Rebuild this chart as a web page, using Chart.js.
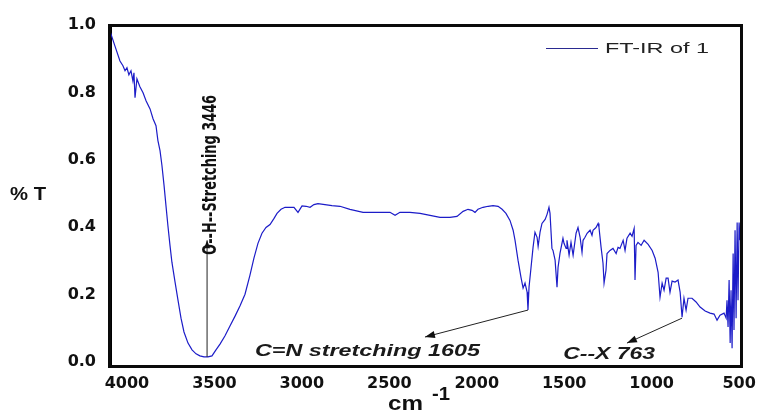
<!DOCTYPE html>
<html>
<head>
<meta charset="utf-8">
<script src="https://cdn.jsdelivr.net/npm/chart.js@4/dist/chart.umd.min.js"></script>
<style>
  html, body { margin: 0; padding: 0; background: #ffffff; }
  #wrap { width: 761px; height: 414px; position: relative; }
</style>
</head>
<body>
<div id="wrap"><canvas id="c"></canvas></div>
<script>
// ---- Data ----
const seriesLabel = "FT-IR of 1";
const wavenumbers = [
  4097, 4069, 4040, 4023, 4011, 4000, 3989, 3977, 3966, 3960, 3954, 3943, 3926, 3908, 3891, 3868,
  3851, 3834, 3823, 3811, 3800, 3788, 3777, 3766, 3754, 3743, 3725, 3708, 3691, 3674, 3651, 3628,
  3605, 3583, 3560, 3537, 3514, 3491, 3468, 3440, 3411, 3382, 3354, 3325, 3297, 3274, 3251, 3228,
  3205, 3182, 3159, 3142, 3119, 3096, 3068, 3045, 3022, 2999, 2976, 2953, 2931, 2908, 2868, 2828,
  2782, 2725, 2650, 2582, 2496, 2467, 2439, 2382, 2324, 2267, 2210, 2153, 2113, 2078, 2050, 2027,
  2010, 1993, 1964, 1935, 1907, 1878, 1855, 1833, 1810, 1792, 1781, 1764, 1747, 1735, 1724, 1712,
  1707, 1701, 1690, 1678, 1667, 1655, 1649, 1638, 1627, 1609, 1598, 1587, 1581, 1570, 1564, 1552,
  1541, 1535, 1524, 1507, 1501, 1489, 1484, 1472, 1461, 1449, 1432, 1421, 1409, 1398, 1392, 1381,
  1369, 1352, 1341, 1335, 1318, 1306, 1301, 1289, 1278, 1272, 1261, 1255, 1238, 1221, 1203, 1192,
  1181, 1163, 1152, 1141, 1123, 1112, 1100, 1095, 1089, 1078, 1060, 1043, 1020, 997, 980, 963,
  952, 940, 929, 917, 906, 895, 883, 866, 849, 837, 826, 815, 803, 792, 769, 746,
  723, 694, 666, 643, 626, 609, 586, 574, 569, 563, 557, 551, 546, 540, 534, 529,
  523, 517, 511, 506, 500, 494
];
const transmittance = [
  0.982, 0.938, 0.893, 0.879, 0.864, 0.873, 0.852, 0.864, 0.834, 0.858, 0.784, 0.840, 0.817, 0.799, 0.775, 0.751,
  0.722, 0.701, 0.657, 0.627, 0.583, 0.524, 0.464, 0.405, 0.346, 0.296, 0.237, 0.183, 0.130, 0.089, 0.056, 0.036,
  0.024, 0.018, 0.015, 0.015, 0.018, 0.036, 0.053, 0.077, 0.107, 0.136, 0.166, 0.201, 0.257, 0.308, 0.352, 0.382,
  0.399, 0.408, 0.426, 0.441, 0.453, 0.459, 0.459, 0.459, 0.444, 0.463, 0.462, 0.459, 0.467, 0.470, 0.467, 0.464,
  0.462, 0.453, 0.444, 0.444, 0.444, 0.435, 0.444, 0.444, 0.441, 0.435, 0.429, 0.429, 0.432, 0.447, 0.453, 0.450,
  0.444, 0.453, 0.459, 0.462, 0.464, 0.462, 0.453, 0.441, 0.420, 0.391, 0.361, 0.302, 0.251, 0.219, 0.234, 0.207,
  0.154, 0.222, 0.278, 0.340, 0.385, 0.370, 0.343, 0.385, 0.411, 0.423, 0.438, 0.459, 0.441, 0.337, 0.331, 0.302,
  0.222, 0.281, 0.322, 0.367, 0.352, 0.337, 0.361, 0.317, 0.355, 0.317, 0.382, 0.399, 0.370, 0.325, 0.361, 0.370,
  0.382, 0.391, 0.376, 0.391, 0.399, 0.411, 0.399, 0.340, 0.293, 0.234, 0.272, 0.322, 0.331, 0.337, 0.322, 0.340,
  0.337, 0.361, 0.331, 0.367, 0.382, 0.373, 0.396, 0.243, 0.346, 0.355, 0.346, 0.361, 0.349, 0.331, 0.308, 0.266,
  0.192, 0.234, 0.213, 0.249, 0.249, 0.207, 0.240, 0.237, 0.243, 0.207, 0.133, 0.189, 0.154, 0.189, 0.189, 0.178,
  0.163, 0.151, 0.145, 0.142, 0.124, 0.139, 0.145, 0.130, 0.183, 0.104, 0.243, 0.056, 0.213, 0.041, 0.322, 0.095,
  0.391, 0.130, 0.414, 0.183, 0.414, 0.361
];
const xTickValues = [4000, 3500, 3000, 2500, 2000, 1500, 1000, 500];
const yTickValues = [0.0, 0.2, 0.4, 0.6, 0.8, 1.0];
const xTitle = "cm";
const xTitleSup = "-1";
const yTitle = "% T";

// annotations in data coordinates
const ohLabel = { text: "O--H--Stretching 3446", x: 3542, yTop: 0.361, yBottom: 0.015, textY: 0.555 };
const cnLabel = { text: "C=N stretching 1605", from: [1707, 0.154], to: [2296, 0.074], textX: 3268, textY: 0.030 };
const cxLabel = { text: "C--X 763", from: [826, 0.130], to: [1141, 0.056], textX: 1243, textY: 0.021 };

const points = wavenumbers.map((w, i) => ({ x: w, y: transmittance[i] }));

function stretchedText(ctx, text, x, y, font, targetW, align) {
  ctx.save();
  ctx.font = font;
  const w = ctx.measureText(text).width;
  const s = targetW / w;
  ctx.textBaseline = 'middle';
  ctx.textAlign = 'left';
  let left = x;
  if (align === 'center') left = x - targetW / 2;
  else if (align === 'right') left = x - targetW;
  ctx.translate(left, y);
  ctx.scale(s, 1);
  ctx.fillText(text, 0, 0);
  ctx.restore();
}

function arrow(ctx, x1, y1, x2, y2, head, half) {
  ctx.beginPath();
  ctx.moveTo(x1, y1);
  ctx.lineTo(x2, y2);
  ctx.stroke();
  const a = Math.atan2(y2 - y1, x2 - x1);
  ctx.beginPath();
  ctx.moveTo(x2, y2);
  ctx.lineTo(x2 - head * Math.cos(a) + half * Math.sin(a), y2 - head * Math.sin(a) - half * Math.cos(a));
  ctx.lineTo(x2 - head * Math.cos(a) - half * Math.sin(a), y2 - head * Math.sin(a) + half * Math.cos(a));
  ctx.closePath();
  ctx.fill();
}

const decor = {
  id: 'decor',
  afterDatasetsDraw(chart) {
    const ctx = chart.ctx;
    const ca = chart.chartArea;
    ctx.save();
    ctx.strokeStyle = '#0a0a0a';
    ctx.lineWidth = 3;
    ctx.strokeRect(ca.left - 0.5, ca.top + 0.5, ca.right - ca.left + 1, ca.bottom - ca.top);
    ctx.restore();
  },
  afterDraw(chart) {
    const ctx = chart.ctx;
    const xs = chart.scales.x, ys = chart.scales.y;
    ctx.save();
    ctx.strokeStyle = '#222';
    ctx.fillStyle = '#111';
    ctx.lineWidth = 1;
    const ohx = xs.getPixelForValue(ohLabel.x);
    arrow(ctx, ohx, ys.getPixelForValue(ohLabel.yBottom), ohx, ys.getPixelForValue(ohLabel.yTop), 8, 3);
    arrow(ctx, xs.getPixelForValue(cnLabel.from[0]), ys.getPixelForValue(cnLabel.from[1]),
               xs.getPixelForValue(cnLabel.to[0]), ys.getPixelForValue(cnLabel.to[1]), 10, 3.5);
    arrow(ctx, xs.getPixelForValue(cxLabel.from[0]), ys.getPixelForValue(cxLabel.from[1]),
               xs.getPixelForValue(cxLabel.to[0]), ys.getPixelForValue(cxLabel.to[1]), 10, 3.5);

    ctx.fillStyle = '#1a1a1a';
    stretchedText(ctx, cnLabel.text, xs.getPixelForValue(cnLabel.textX), ys.getPixelForValue(cnLabel.textY),
      'italic bold 16px "Liberation Sans", Arial, sans-serif', 225, 'left');
    stretchedText(ctx, cxLabel.text, xs.getPixelForValue(cxLabel.textX), ys.getPixelForValue(cxLabel.textY),
      'italic bold 16px "Liberation Sans", Arial, sans-serif', 92, 'center');

    ctx.save();
    ctx.translate(ohx + 4, ys.getPixelForValue(ohLabel.textY));
    ctx.rotate(-Math.PI / 2);
    ctx.fillStyle = '#111';
    stretchedText(ctx, ohLabel.text, 0, 0, 'bold 19px "Liberation Sans Narrow", "DejaVu Sans Condensed", sans-serif', 160, 'center');
    ctx.restore();

    ctx.strokeStyle = '#2a2a90';
    ctx.lineWidth = 1.2;
    ctx.beginPath();
    ctx.moveTo(546, 48.5);
    ctx.lineTo(598, 48.5);
    ctx.stroke();
    ctx.fillStyle = '#222';
    stretchedText(ctx, seriesLabel, 605, 49, '15px "Liberation Sans", Arial, sans-serif', 104, 'left');

    ctx.fillStyle = '#111';
    stretchedText(ctx, yTitle, 28, 195, 'bold 18px "Liberation Sans", Arial, sans-serif', 36, 'center');
    stretchedText(ctx, xTitle, 388, 404, 'bold 20px "Liberation Sans", Arial, sans-serif', 35, 'left');
    stretchedText(ctx, xTitleSup, 432, 395, 'bold 18px "Liberation Sans", Arial, sans-serif', 18, 'left');
    ctx.restore();
  }
};

new Chart(document.getElementById('c'), {
  type: 'line',
  data: {
    datasets: [{
      label: seriesLabel,
      data: points,
      borderColor: '#1c1cc8',
      borderWidth: 1.2,
      pointRadius: 0,
      tension: 0,
      fill: false
    }]
  },
  options: {
    responsive: true,
    maintainAspectRatio: false,
    animation: false,
    layout: { padding: { top: 25, right: 20, left: 0, bottom: 0 } },
    plugins: { legend: { display: false }, tooltip: { enabled: false } },
    scales: {
      x: {
        type: 'linear',
        reverse: true,
        min: 489,
        max: 4097,
        grid: { display: false, drawTicks: false },
        border: { display: true, color: '#000', width: 3 },
        afterBuildTicks: s => { s.ticks = xTickValues.map(v => ({ value: v })); },
        afterFit: s => { s.height = 48; s.paddingLeft = 0; s.paddingRight = 0; },
        ticks: {
          padding: 8,
          color: '#111',
          font: { family: '"DejaVu Sans", sans-serif', weight: 'bold', size: 16 },
          maxRotation: 0,
          callback: v => String(v)
        }
      },
      y: {
        type: 'linear',
        min: -0.012,
        max: 1.0,
        grid: { display: false, drawTicks: false },
        border: { display: true, color: '#000', width: 3 },
        afterBuildTicks: s => { s.ticks = yTickValues.map(v => ({ value: v })); },
        afterFit: s => { s.width = 110; s.paddingTop = 0; s.paddingBottom = 0; },
        ticks: {
          padding: 14,
          color: '#111',
          font: { family: '"DejaVu Sans", sans-serif', weight: 'bold', size: 16 },
          callback: v => v.toFixed(1)
        }
      }
    }
  },
  plugins: [decor]
});
</script>
</body>
</html>
